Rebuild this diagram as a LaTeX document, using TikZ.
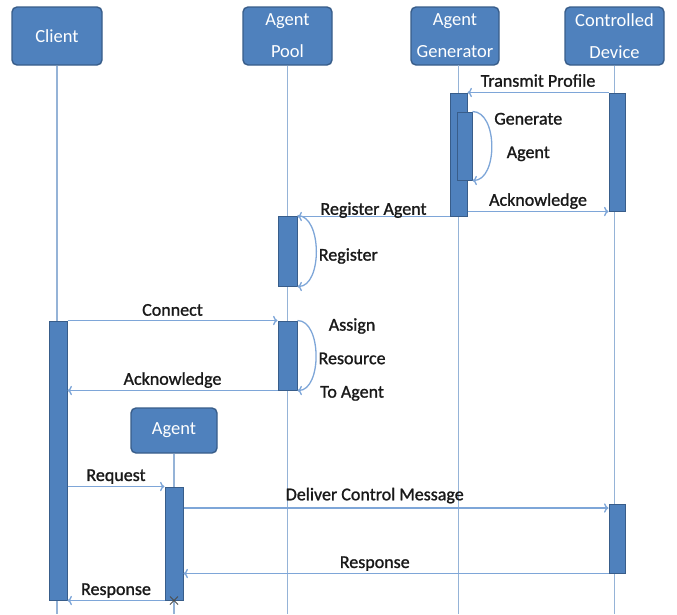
\documentclass[tikz,border=0pt]{standalone}
\usepackage{fontspec}
\setmainfont{Carlito}
\newfontfamily\notefont[FakeBold=1.2]{Carlito}
\usetikzlibrary{arrows.meta,arrows}
\usetikzlibrary{positioning}
\usetikzlibrary{calc, shapes}
\definecolor{boxblue}{HTML}{4F81BD}
\definecolor{boxline}{HTML}{385D8A}
\definecolor{lifeblue}{HTML}{95B3D7}
\definecolor{msgblue}{HTML}{7EA6D8}

\begin{document}
\begin{tikzpicture}[x=1pt,y=-1pt]
\tikzstyle{actor node}=[rectangle,rounded corners=5pt,draw=boxline,fill=boxblue,line width=1.4pt,text=white,align=center,font=\fontsize{18.5}{32}\selectfont,minimum height=58pt,inner sep=0]
\tikzstyle{bar node}=[rectangle,draw=boxline,fill=boxblue,line width=1pt,inner sep=0,minimum width=17pt]
\tikzstyle{note node}=[text=black!90,font=\notefont\fontsize{18}{33.5}\selectfont,align=center,inner sep=2pt]
\tikzset{
  lifeline/.style = {draw=lifeblue,line width=1.6pt},
  msg/.style = {color=msgblue,line width=1.3pt},
  endmark/.style = {cross out,draw=black!70,line width=1pt,minimum size=7pt,inner sep=0}
}

    \useasboundingbox (0,0) rectangle (677,614);
    \coordinate (bot) at (0,614);
    \coordinate (dlv) at (617,508);

    \node[actor node,minimum width=90pt]  (client) at (57,36)    {Client};
    \node[actor node,minimum width=89pt]  (pool)   at (287.5,36) {Agent\\Pool};
    \node[actor node,minimum width=88pt]  (gen)    at (455,36)   {Agent\\Generator};
    \node[actor node,minimum width=99pt]  (dev)    at (614.5,36) {Controlled\\Device};
    \node[actor node,minimum width=86pt,minimum height=45pt] (agent) at (174,430.5) {Agent};
    %%%%%%%%%%%%%%%%%%%%%%%%%%%%%%%%%%%
    \draw[lifeline] (client.south) -- (client.south |- bot);
    \draw[lifeline] (pool.south) -- (pool.south |- bot);
    \draw[lifeline] (458.5,65) -- (458.5,614);
    \draw[lifeline] (dev.south) -- (dev.south |- bot);
    \draw[lifeline] (agent.south) -- (agent.south |- bot);
    %%%%%%%%%%%%%%%%%%%%%%%%%%%%%%%%%%%
    \node[bar node,minimum height=123pt]                  (gbar)  at (458.5,154.5) {};
    \node[bar node,minimum width=15pt,minimum height=68pt] (gsub)  at (464.5,146)   {};
    \node[bar node,minimum width=16pt,minimum height=118pt] (dbar1) at (617,152)    {};
    \node[bar node,minimum width=19pt,minimum height=70pt] (pbar1) at (287.5,251)   {};
    \node[bar node,minimum width=19pt,minimum height=69pt] (pbar2) at (287.5,355.5) {};
    \node[bar node,minimum width=18pt,minimum height=279pt] (cbar) at (58,460.5)    {};
    \node[bar node,minimum width=18pt,minimum height=113pt] (abar) at (174,543.5)   {};
    \node[bar node,minimum width=16pt,minimum height=69pt] (dbar2) at (617,538.5)   {};
    \node[endmark] (xend) at (abar.south) {};
    %%%%%%%%%%%%%%%%%%%%%%%%%%%%%%%%%%%
    \path[->,msg]
        (dbar1.north west) edge node[above,note node,yshift=3pt] {Transmit Profile} (dbar1.north west -| gbar.east)
        (gsub.north east) edge[out=0,in=0,looseness=0.95] node[right,note node,yshift=9pt] {Generate\\Agent} (gsub.south east)
        (gbar.east |- dbar1.south) edge node[above,note node] {Acknowledge} (dbar1.south west)
        (gbar.south west) edge node[above,note node,yshift=-4pt] {Register Agent} (gbar.south west -| pbar1.east)
        (pbar1.north east) edge[out=0,in=0,looseness=0.9] node[right,note node,yshift=-5pt] {Register} (pbar1.south east)
        %%%%%%%%%%%%%%%%%
        (cbar.north east) edge node[above,note node,yshift=2pt] {Connect} (cbar.north east -| pbar2.west)
        (pbar2.north east) edge[out=0,in=0,looseness=0.9] node[right,note node,yshift=-4pt] {Assign\\Resource\\To Agent} (pbar2.south east)
        (pbar2.south west) edge node[above,note node] {Acknowledge} (pbar2.south west -| cbar.east)
        %%%%%%%%%%%%%%%%%
        (cbar.east |- abar.north) edge node[above,note node] {Request} (abar.north west)
        (dlv -| abar.east) edge node[above,note node,pos=0.45,yshift=2pt] {Deliver Control Message} (dlv -| dbar2.west)
        (dbar2.south west) edge node[above,note node,pos=0.55] {Response} (dbar2.south west -| abar.east)
        (abar.south west) edge node[above,note node] {Response} (abar.south west -| cbar.east)
;
\end{tikzpicture}
\end{document}
